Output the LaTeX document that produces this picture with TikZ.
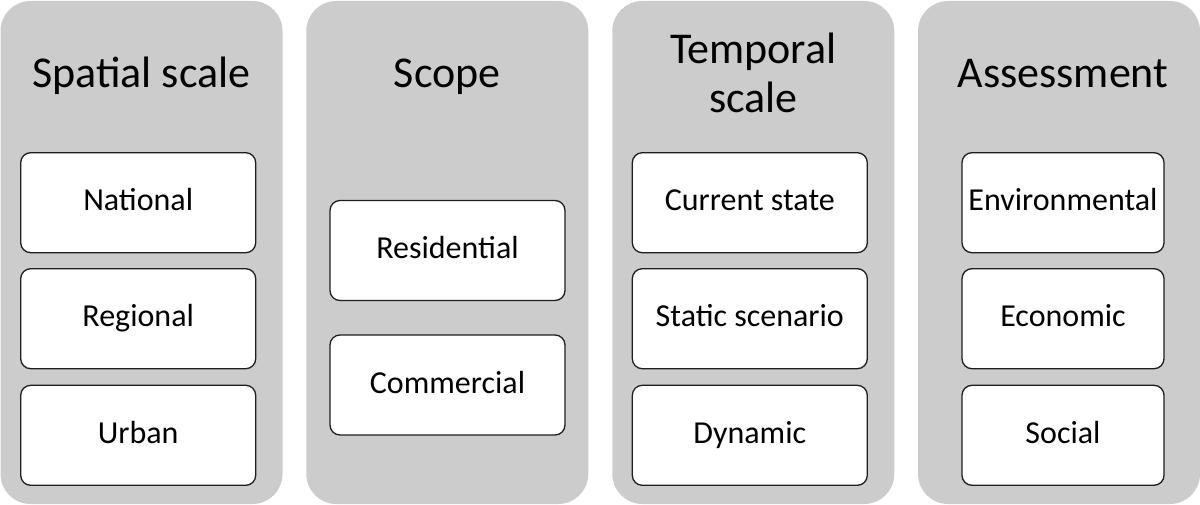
\documentclass[tikz,border=0pt]{standalone}
\usepackage{fontspec}
\setmainfont{Carlito}
\definecolor{panelgray}{HTML}{CCCCCC}
\definecolor{boxline}{HTML}{1E1E1E}
\begin{document}
\begin{tikzpicture}[x=1pt,y=-1pt,
  panel/.style={fill=panelgray, draw=none, rounded corners=30pt},
  header/.style={anchor=base, align=center, font=\fontsize{44}{49}\selectfont, inner sep=0pt},
  item/.style={draw=boxline, line width=1.3pt, fill=white, rounded corners=10pt,
    minimum height=100pt, inner sep=0pt, text height=20pt, text depth=4pt,
    font=\fontsize{32}{38}\selectfont}
]
\useasboundingbox (0,0) rectangle (1200,505);

% column backgrounds
\fill[panel] (0.5,1)   rectangle (282.5,504);
\fill[panel] (306.3,1) rectangle (588.3,504);
\fill[panel] (612.3,1) rectangle (894.3,504);
\fill[panel] (918,1)   rectangle (1200,504);

% column headings
\node[header] (hspatial) at (141.5,88) {Spatial scale};
\node[header] (hscope)   at (447.3,88) {Scope};
\node[header] (htemporal) at (753.3,112.5) {Temporal\\scale};
\node[header] (hassess)  at (1063,88) {Assessment};

% spatial scale
\node[item, minimum width=235pt] (national) at (138.2,202.7) {National};
\node[item, minimum width=235pt] (regional) at (138.2,318.7) {Regional};
\node[item, minimum width=235pt] (urban)    at (138.2,435.3) {Urban};

% scope
\node[item, minimum width=235pt] (residential) at (447.5,250.5) {Residential};
\node[item, minimum width=235pt] (commercial)  at (447.5,385.0) {Commercial};

% temporal scale
\node[item, minimum width=235pt] (current) at (749.8,202.7) {Current state};
\node[item, minimum width=235pt] (static)  at (749.8,318.7) {Static scenario};
\node[item, minimum width=235pt] (dynamic) at (749.8,435.3) {Dynamic};

% assessment
\node[item, minimum width=202pt] (environmental) at (1063,202.7) {Environmental};
\node[item, minimum width=202pt] (economic)      at (1063,318.7) {Economic};
\node[item, minimum width=202pt] (social)        at (1063,435.3) {Social};
\end{tikzpicture}
\end{document}
